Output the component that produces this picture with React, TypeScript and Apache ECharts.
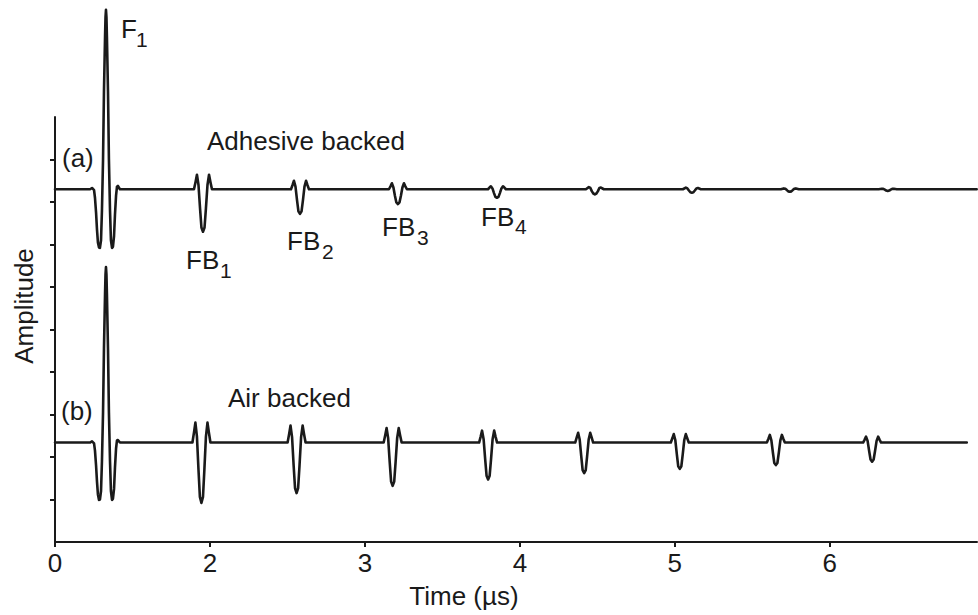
import React, { useEffect, useRef } from 'react';
import * as echarts from 'echarts';

// Tick positions on the time axis and the text printed under them
const xTickValues = [1, 2, 3, 4, 5, 6];
const xTickLabels = ['0', '2', '3', '4', '5', '6'];
const yTickValues = [1, 2, 3, 4, 5, 6, 7, 8, 9];

// (a) Adhesive backed trace: [time, amplitude]
const traceAdhesive: [number, number][] = [
  [1.000, 8.30],
  // F1
  [1.226, 8.30], [1.239, 8.33], [1.252, 8.28], [1.258, 8.10], [1.265, 7.75], [1.271, 7.35], [1.277, 7.05],
  [1.284, 6.93], [1.290, 6.92], [1.297, 7.10], [1.303, 7.80], [1.310, 9.00], [1.316, 10.60], [1.323, 11.90],
  [1.326, 12.35], [1.329, 12.52], [1.332, 12.35], [1.335, 11.90], [1.342, 10.60], [1.348, 9.00], [1.355, 7.80],
  [1.361, 7.10], [1.368, 6.92], [1.374, 6.95], [1.381, 7.20], [1.387, 7.70], [1.394, 8.15], [1.400, 8.36],
  [1.406, 8.38], [1.419, 8.30],
  // FB1
  [1.878, 8.30], [1.897, 8.30], [1.907, 8.47], [1.916, 8.64], [1.926, 8.40], [1.936, 7.85], [1.945, 7.40],
  [1.955, 7.30], [1.965, 7.40], [1.974, 7.85], [1.984, 8.40], [1.994, 8.64], [2.003, 8.47], [2.013, 8.30], [2.032, 8.30],
  // FB2
  [2.504, 8.30], [2.523, 8.30], [2.533, 8.40], [2.542, 8.50], [2.552, 8.36], [2.562, 8.04], [2.571, 7.78],
  [2.581, 7.72], [2.591, 7.78], [2.600, 8.04], [2.610, 8.36], [2.620, 8.50], [2.629, 8.40], [2.639, 8.30], [2.658, 8.30],
  // FB3
  [3.136, 8.30], [3.155, 8.30], [3.165, 8.37], [3.174, 8.44], [3.184, 8.34], [3.194, 8.14], [3.203, 7.99],
  [3.213, 7.95], [3.223, 7.99], [3.232, 8.14], [3.242, 8.34], [3.252, 8.44], [3.261, 8.37], [3.271, 8.30], [3.290, 8.30],
  // FB4
  [3.775, 8.30], [3.794, 8.30], [3.804, 8.34], [3.813, 8.37], [3.823, 8.32], [3.833, 8.21], [3.842, 8.12],
  [3.852, 8.10], [3.862, 8.12], [3.871, 8.21], [3.881, 8.32], [3.891, 8.37], [3.900, 8.34], [3.910, 8.30], [3.929, 8.30],
  // later echoes
  [4.426, 8.30], [4.445, 8.35], [4.455, 8.33], [4.465, 8.25], [4.474, 8.20], [4.484, 8.18], [4.494, 8.20],
  [4.503, 8.25], [4.513, 8.33], [4.523, 8.34], [4.542, 8.30],
  [5.052, 8.30], [5.071, 8.34], [5.081, 8.32], [5.091, 8.27], [5.100, 8.23], [5.110, 8.22], [5.120, 8.23],
  [5.129, 8.27], [5.139, 8.32], [5.149, 8.33], [5.168, 8.30],
  [5.684, 8.30], [5.703, 8.32], [5.713, 8.31], [5.723, 8.28], [5.732, 8.25], [5.742, 8.24], [5.752, 8.25],
  [5.761, 8.28], [5.771, 8.31], [5.781, 8.32], [5.800, 8.30],
  [6.316, 8.30], [6.335, 8.31], [6.345, 8.31], [6.355, 8.29], [6.364, 8.27], [6.374, 8.26], [6.384, 8.27],
  [6.393, 8.29], [6.403, 8.31], [6.413, 8.31], [6.432, 8.30],
  [6.948, 8.30],
];

// (b) Air backed trace: [time, amplitude]
const traceAir: [number, number][] = [
  [1.000, 2.34],
  // F1
  [1.226, 2.34], [1.239, 2.37], [1.252, 2.32], [1.258, 2.15], [1.265, 1.80], [1.271, 1.42], [1.277, 1.12],
  [1.284, 0.99], [1.290, 1.00], [1.297, 1.20], [1.303, 1.90], [1.310, 3.05], [1.316, 4.55], [1.323, 5.85],
  [1.326, 6.30], [1.329, 6.47], [1.332, 6.30], [1.335, 5.85], [1.342, 4.55], [1.348, 3.05], [1.355, 1.90],
  [1.361, 1.20], [1.368, 0.99], [1.374, 1.02], [1.381, 1.25], [1.387, 1.75], [1.394, 2.20], [1.400, 2.39],
  [1.406, 2.40], [1.419, 2.34],
  // echo 1
  [1.868, 2.34], [1.887, 2.34], [1.897, 2.58], [1.906, 2.81], [1.916, 2.48], [1.926, 1.70], [1.935, 1.06],
  [1.945, 0.92], [1.955, 1.06], [1.964, 1.70], [1.974, 2.48], [1.984, 2.81], [1.993, 2.58], [2.003, 2.34], [2.022, 2.34],
  // echo 2
  [2.482, 2.34], [2.501, 2.34], [2.511, 2.54], [2.520, 2.74], [2.530, 2.46], [2.540, 1.80], [2.549, 1.27],
  [2.559, 1.15], [2.569, 1.27], [2.578, 1.80], [2.588, 2.46], [2.598, 2.74], [2.607, 2.54], [2.617, 2.34], [2.636, 2.34],
  // echo 3
  [3.102, 2.34], [3.121, 2.34], [3.131, 2.51], [3.140, 2.68], [3.150, 2.44], [3.160, 1.88], [3.169, 1.42],
  [3.179, 1.32], [3.189, 1.42], [3.198, 1.88], [3.208, 2.44], [3.218, 2.68], [3.227, 2.51], [3.237, 2.34], [3.256, 2.34],
  // echo 4
  [3.718, 2.34], [3.737, 2.34], [3.747, 2.48], [3.756, 2.62], [3.766, 2.42], [3.776, 1.95], [3.785, 1.56],
  [3.795, 1.47], [3.805, 1.56], [3.814, 1.95], [3.824, 2.42], [3.834, 2.62], [3.843, 2.48], [3.853, 2.34], [3.872, 2.34],
  // echo 5
  [4.338, 2.34], [4.357, 2.34], [4.367, 2.46], [4.376, 2.57], [4.386, 2.41], [4.396, 2.02], [4.405, 1.69],
  [4.415, 1.62], [4.425, 1.69], [4.434, 2.02], [4.444, 2.41], [4.454, 2.57], [4.463, 2.46], [4.473, 2.34], [4.492, 2.34],
  // echo 6
  [4.955, 2.34], [4.974, 2.34], [4.984, 2.44], [4.993, 2.54], [5.003, 2.40], [5.013, 2.06], [5.022, 1.78],
  [5.032, 1.72], [5.042, 1.78], [5.051, 2.06], [5.061, 2.40], [5.071, 2.54], [5.080, 2.44], [5.090, 2.34], [5.109, 2.34],
  // echo 7
  [5.575, 2.34], [5.594, 2.34], [5.604, 2.43], [5.613, 2.52], [5.623, 2.39], [5.633, 2.10], [5.642, 1.86],
  [5.652, 1.81], [5.662, 1.86], [5.671, 2.10], [5.681, 2.39], [5.691, 2.52], [5.700, 2.43], [5.710, 2.34], [5.729, 2.34],
  // echo 8
  [6.196, 2.34], [6.215, 2.34], [6.225, 2.41], [6.234, 2.48], [6.244, 2.38], [6.254, 2.14], [6.263, 1.94],
  [6.273, 1.89], [6.283, 1.94], [6.292, 2.14], [6.302, 2.38], [6.312, 2.48], [6.321, 2.41], [6.331, 2.34], [6.350, 2.34],
  [6.884, 2.34],
];

const FONT = '"Liberation Sans", Arial, Helvetica, sans-serif';
const INK = '#1a1a1a';

function txt(text: string, x: number, y: number, size = 26, extra: any = {}) {
  return {
    type: 'text',
    x,
    y,
    silent: true,
    ...extra,
    style: {
      text,
      fill: INK,
      font: `${size}px ${FONT}`,
      textAlign: 'left',
      align: 'left',
      textVerticalAlign: 'middle',
      verticalAlign: 'middle',
      ...(extra.style || {}),
    },
  };
}

export default function App() {
  const ref = useRef<HTMLDivElement>(null);
  useEffect(() => {
    if (!ref.current) return;
    const chart = echarts.init(ref.current, undefined, { renderer: 'svg' });
    const axisStyle = { color: INK, width: 2 };
    chart.setOption({
      animation: false,
      backgroundColor: '#ffffff',
      grid: { left: 55, top: 117, width: 922, height: 425, containLabel: false },
      xAxis: {
        type: 'value',
        min: 1,
        max: 6.95,
        interval: 1,
        axisLine: { show: true, onZero: false, lineStyle: axisStyle },
        axisTick: { show: true, inside: false, length: 5, lineStyle: axisStyle, customValues: xTickValues },
        axisLabel: {
          show: true,
          customValues: xTickValues,
          margin: 8,
          color: INK,
          fontSize: 26,
          fontFamily: FONT,
          formatter: (v: number) => {
            const i = xTickValues.indexOf(Math.round(v * 1000) / 1000);
            return i >= 0 ? xTickLabels[i] : '';
          },
        },
        splitLine: { show: false },
      },
      yAxis: {
        type: 'value',
        min: 0,
        max: 10,
        interval: 1,
        axisLine: { show: true, lineStyle: axisStyle },
        axisTick: { show: true, inside: false, length: 5, lineStyle: axisStyle, customValues: yTickValues },
        axisLabel: { show: false },
        splitLine: { show: false },
      },
      series: [
        {
          name: 'Adhesive backed',
          type: 'line',
          data: traceAdhesive,
          showSymbol: false,
          clip: false,
          lineStyle: { color: INK, width: 2.6, join: 'round', cap: 'round' },
          z: 3,
        },
        {
          name: 'Air backed',
          type: 'line',
          data: traceAir,
          showSymbol: false,
          clip: false,
          lineStyle: { color: INK, width: 2.6, join: 'round', cap: 'round' },
          z: 3,
        },
      ],
      graphic: [
        txt('F', 121, 29),
        txt('1', 136, 39, 21),
        txt('(a)', 62, 158),
        txt('Adhesive backed', 207, 141),
        txt('FB', 186, 260),
        txt('1', 220, 270, 21),
        txt('FB', 287, 241),
        txt('2', 322, 251, 21),
        txt('FB', 382, 227),
        txt('3', 417, 237, 21),
        txt('FB', 481, 217),
        txt('4', 515, 226, 21),
        txt('(b)', 61, 411),
        txt('Air backed', 228, 398),
        txt('Time (µs)', 464, 596, 26, { style: { textAlign: 'center', align: 'center' } }),
        txt('Amplitude', 24, 306, 26, {
          rotation: Math.PI / 2,
          style: { textAlign: 'center', align: 'center' },
        }),
      ],
    });
    return () => chart.dispose();
  }, []);
  return (
    <div
      ref={ref}
      style={{ position: 'fixed', left: 0, top: 0, width: 978, height: 615, background: '#fff' }}
    />
  );
}
